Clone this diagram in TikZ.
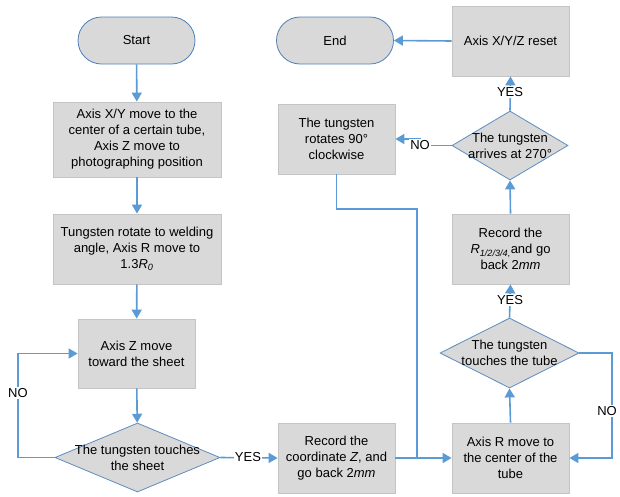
\documentclass[tikz,border=0pt]{standalone}
\usepackage{fontspec}
\setmainfont{Liberation Sans}
\usetikzlibrary{shapes.geometric,shapes.misc,arrows.meta,shadows}
\definecolor{boxfill}{HTML}{D9D9D9}
\definecolor{boxline}{HTML}{C4C4C4}
\definecolor{termline}{HTML}{4F7FB5}
\definecolor{dialine}{HTML}{5E8CC0}
\definecolor{arrowc}{HTML}{5B9BD5}
\begin{document}
\begin{tikzpicture}[x=1pt,y=-1pt,
  font=\fontsize{13}{16}\selectfont,
  procbox/.style={rectangle, fill=boxfill, draw=boxline, line width=0.8pt, align=center, inner sep=0pt,
     drop shadow={shadow xshift=1pt, shadow yshift=-1pt, opacity=0.18, fill=black!60}},
  term/.style={rounded rectangle, fill=boxfill, draw=termline, line width=0.8pt, inner sep=0pt,
     minimum width=117pt, minimum height=47pt},
  dia/.style={diamond, fill=boxfill, draw=dialine, line width=0.8pt, inner sep=0pt},
  ttext/.style={align=center, inner sep=0pt},
  arr/.style={draw=arrowc, line width=1.6pt, -{Triangle[length=9pt,width=10pt]}},
  ln/.style={draw=arrowc, line width=1.6pt},
  lab/.style={fill=white, inner sep=1pt}
]
\useasboundingbox (0,0) rectangle (620,496);

% nodes
\node[term] (start) at (136.5,40.5) {Start};
\node[term] (end) at (335,40.5) {End};
\node[procbox, minimum width=168pt, minimum height=75pt] (b1) at (137,139.5)
  {Axis X/Y move to the\\center of a certain tube,\\Axis Z move to\\photographing position};
\node[procbox, minimum width=168pt, minimum height=70pt] (b2) at (137,249)
  {Tungsten rotate to welding\\angle, Axis R move to\\1.3\textit{R}\textsubscript{\textit{0}}};
\node[procbox, minimum width=117pt, minimum height=69pt] (b3) at (136.5,353.5)
  {Axis Z move\\toward the sheet};
\node[dia, minimum width=165pt, minimum height=69pt] (d1) at (137.5,457.5) {};
\node[ttext] (d1t) at (d1.center) {The tungsten touches\\the sheet};
\node[procbox, minimum width=117pt, minimum height=70pt] (recz) at (336.5,458)
  {Record the\\coordinate \textit{Z}, and\\go back 2\textit{mm}};
\node[procbox, minimum width=117pt, minimum height=70pt] (axr) at (510.5,458)
  {Axis R move to\\the center of the\\tube};
\node[dia, minimum width=139pt, minimum height=70pt] (d2) at (509.5,353) {};
\node[ttext] (d2t) at (d2.center) {The tungsten\\touches the tube};
\node[procbox, minimum width=117pt, minimum height=70pt] (recr) at (510.5,249)
  {Record the\\\textit{R}\textsubscript{\textit{1/2/3/4},}and go\\back 2\textit{mm}};
\node[dia, minimum width=116pt, minimum height=69pt] (d3) at (510,145.5) {};
\node[ttext] (d3t) at (d3.center) {The tungsten\\arrives at 270°};
\node[procbox, minimum width=117pt, minimum height=70pt] (reset) at (510.5,41)
  {Axis X/Y/Z reset};
\node[procbox, minimum width=117pt, minimum height=70pt] (rot) at (336.5,139)
  {The tungsten\\rotates 90°\\clockwise};

% helper coordinates
\coordinate (ll) at (18,457.5);
\coordinate (rr) at (612,353);
\coordinate (jt) at (417,209);
\coordinate (nk) at (420,145.5);

% connectors
\draw[arr] (start) -- (b1);
\draw[arr] (b1) -- (b2);
\draw[arr] (b2) -- (b3);
\draw[arr] (b3) -- (d1);
\draw[arr] (d1.west) -- (ll) |- (b3.west);
\draw[arr] (d1.east) -- (recz.west);
\draw[arr] (recz.east) -- (axr.west);
\draw[ln] (rot.south) |- (jt) -- (jt |- axr.west);
\draw[arr] (axr.north) -- (d2.south);
\draw[arr] (d2.east) -- (rr) |- (axr.east);
\draw[arr] (d2.north) -- (recr.south);
\draw[arr] (recr.north) -- (d3.south);
\draw[arr] (d3.north) -- (reset.south);
\draw[arr] (d3.west) -- (nk) |- (rot.east);
\draw[arr] (reset.west) -- (end.east);

% labels
\node[lab] (no1) at (18,393) {NO};
\node[lab] (yes1) at (248,457.5) {YES};
\node[lab] (no2) at (607,411) {NO};
\node[lab] (yes2) at (510,300) {YES};
\node[lab] (yes3) at (510,92) {YES};
\node[lab] (no3) at (420,145) {NO};
\end{tikzpicture}
\end{document}
